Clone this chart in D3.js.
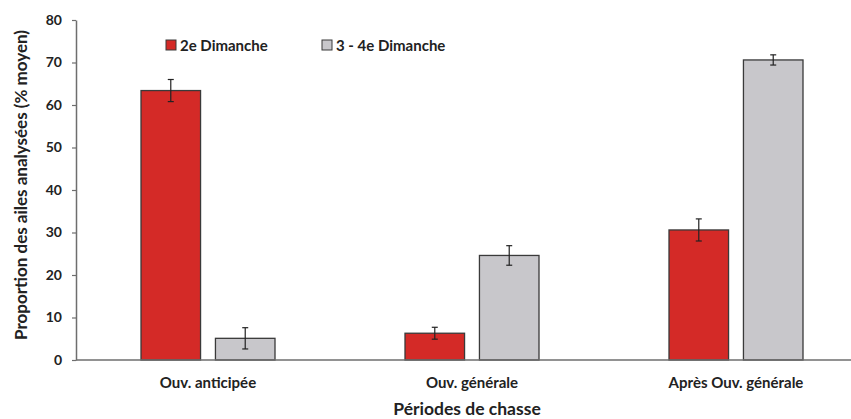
<!DOCTYPE html>
<html>
<head>
<meta charset="utf-8">
<script src="https://cdn.jsdelivr.net/npm/d3@7"></script>
<style>
  body { margin: 0; background: #fff; }
  svg text { font-family: Lato, "Open Sans", sans-serif; font-weight: bold; fill: #222; }
</style>
</head>
<body>
<div id="chart"></div>
<script>
//Données
const categories = ['Ouv. anticipée', 'Ouv. générale', 'Après Ouv. générale'];
const series = ['2e Dimanche', '3 - 4e Dimanche'];
const valDim2 = [63.4, 6.3, 30.6];
const errDim2 = [2.6, 1.4, 2.6];
const valDim34 = [5.1, 24.6, 70.6];
const errDim34 = [2.5, 2.3, 1.2];
const yTicks = [0, 10, 20, 30, 40, 50, 60, 70, 80];

//Colores
const COLOR_RED = '#D42A27', COLOR_GREY = '#C8C7CB', COLOR_STROKE = '#3a3a3a';

const W = 851, H = 419;
const margin = {top: 20, right: 0, bottom: 59, left: 76};

let svg = d3.select('#chart').append('svg')
    .attr('width', W).attr('height', H);

let y = d3.scaleLinear().domain([0, 80]).range([H - margin.bottom, margin.top]);

//Bandes de catégories (la dernière déborde à droite, comme l'original)
let x0 = d3.scaleBand().domain(categories).range([margin.left, margin.left + 3 * 264]).paddingInner(0).paddingOuter(0);
let x1 = d3.scaleBand().domain(series).range([-67, 67]).paddingInner(0.2).paddingOuter(0);

let rows = [];
categories.forEach(function(c, i) {
    rows.push({cat: c, s: series[0], v: valDim2[i], e: errDim2[i], color: COLOR_RED});
    rows.push({cat: c, s: series[1], v: valDim34[i], e: errDim34[i], color: COLOR_GREY});
});

function cx(d) { return x0(d.cat) + x0.bandwidth() / 2 + x1(d.s); }

svg.append('g').selectAll('rect')
    .data(rows).enter().append('rect')
    .attr('x', cx)
    .attr('y', d => y(d.v))
    .attr('width', x1.bandwidth())
    .attr('height', d => y(0) - y(d.v))
    .attr('fill', d => d.color)
    .attr('stroke', COLOR_STROKE)
    .attr('stroke-width', 1.3);

//Barres d'erreur
let eb = svg.append('g').attr('stroke', '#222').attr('stroke-width', 1.2);
rows.forEach(function(d) {
    let mx = cx(d) + x1.bandwidth() / 2;
    eb.append('line').attr('x1', mx).attr('x2', mx).attr('y1', y(d.v + d.e)).attr('y2', y(d.v - d.e));
    eb.append('line').attr('x1', mx - 3).attr('x2', mx + 3).attr('y1', y(d.v + d.e)).attr('y2', y(d.v + d.e));
    eb.append('line').attr('x1', mx - 3).attr('x2', mx + 3).attr('y1', y(d.v - d.e)).attr('y2', y(d.v - d.e));
});

//Axe Y
let yAxis = svg.append('g')
    .attr('transform', 'translate(' + margin.left + ',0)')
    .call(d3.axisLeft(y).tickValues(yTicks).tickSize(4).tickPadding(10).tickSizeOuter(0));
yAxis.select('.domain').attr('stroke', '#6e6e6e').attr('stroke-width', 1.5);
yAxis.selectAll('.tick line').attr('stroke', '#6e6e6e').attr('stroke-width', 1.2);
yAxis.selectAll('.tick text').style('font-size', '14px').attr('fill', '#333');

//Axe X
svg.append('line')
    .attr('x1', margin.left).attr('x2', W)
    .attr('y1', y(0)).attr('y2', y(0))
    .attr('stroke', '#6e6e6e').attr('stroke-width', 1.5);

svg.append('g').selectAll('text')
    .data(categories).enter().append('text')
    .attr('x', d => x0(d) + x0.bandwidth() / 2)
    .attr('y', 388)
    .attr('text-anchor', 'middle')
    .style('font-size', '15px')
    .text(d => d);

//Titres
svg.append('text')
    .attr('x', 467).attr('y', 415)
    .attr('text-anchor', 'middle')
    .style('font-size', '17.5px')
    .text('Périodes de chasse');

svg.append('text')
    .attr('transform', 'translate(27,' + 185 + ') rotate(-90)')
    .attr('text-anchor', 'middle')
    .style('font-size', '17px')
    .text('Proportion des ailes analysées (% moyen)');

//Légende
let legX = [166, 322];
let leg = svg.append('g');
series.forEach(function(s, i) {
    leg.append('rect')
        .attr('x', legX[i]).attr('y', 40)
        .attr('width', 10).attr('height', 10)
        .attr('fill', i === 0 ? COLOR_RED : COLOR_GREY)
        .attr('stroke', COLOR_STROKE).attr('stroke-width', 1);
    leg.append('text')
        .attr('x', legX[i] + 14).attr('y', 51)
        .style('font-size', '15px')
        .text(s);
});
</script>
</body>
</html>
